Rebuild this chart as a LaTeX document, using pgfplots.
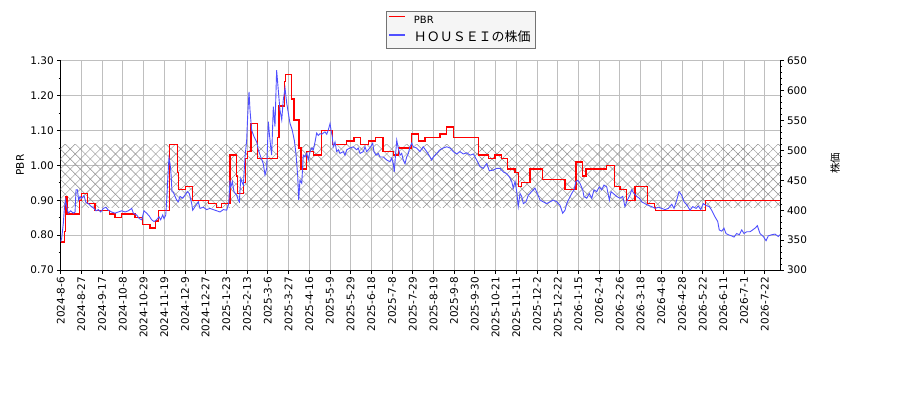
\documentclass[border=0pt]{standalone}
\usepackage{fontspec}
\setmainfont{DejaVu Sans}
\newfontfamily\cjk{Noto Sans CJK JP}
\usepackage{pgfplots}
\pgfplotsset{compat=1.18}
\usetikzlibrary{patterns.meta}

\definecolor{pbrred}{rgb}{1,0,0}
\definecolor{stockblue}{RGB}{80,80,255}

\pgfplotsset{
  chartbase/.style={
    scale only axis,
    width=719.3bp, height=209.3bp,
    at={(60.7bp,130bp)}, anchor=south west,
    xmin=0, xmax=521,
    tick align=outside,
    major tick length=3.5bp, minor tick length=2bp,
    tick style={black, line width=0.8bp},
    axis line style={-, black, line width=0.8bp},
    tick label style={font=\fontsize{10.5}{12}\selectfont},
    /pgf/number format/assume math mode=true,
  },
}

\begin{document}
\begin{tikzpicture}
\path[use as bounding box] (0,0) rectangle (900bp,400bp);

% PBR axis (left)
\begin{axis}[chartbase,
    axis x line*=bottom, axis y line*=left,
    ymin=0.70, ymax=1.30,
    ytick={0.7,0.8,0.9,1.0,1.1,1.2,1.3},
    minor y tick num=1,
    yticklabel style={/pgf/number format/.cd, fixed, fixed zerofill, precision=2},
    xtick={0,15,30,45,60,75,90,105,120,135,150,165,180,195,210,225,240,255,270,285,300,315,330,345,360,375,390,405,420,435,450,465,480,495,510},
    xticklabels={2024-8-6,2024-8-27,2024-9-17,2024-10-8,2024-10-29,2024-11-19,2024-12-9,2024-12-27,2025-1-23,2025-2-13,2025-3-6,2025-3-27,2025-4-16,2025-5-9,2025-5-29,2025-6-18,2025-7-8,2025-7-29,2025-8-19,2025-9-8,2025-9-30,2025-10-21,2025-11-11,2025-12-2,2025-12-22,2026-1-15,2026-2-4,2026-2-26,2026-3-18,2026-4-8,2026-4-28,2026-5-22,2026-6-11,2026-7-1,2026-7-22},
    xticklabel style={rotate=90, anchor=east},
    xmajorgrids, ymajorgrids,
    grid style={black!25, line width=0.8bp},
    ylabel={PBR},
    ylabel style={at={(axis description cs:-0.0566,0.502)}, anchor=center, font=\fontsize{10.5}{12}\selectfont},
  ]
  % hatched band
  \addplot[draw=none, pattern={Lines[angle=45, distance=7.1bp, line width=0.45bp]}, pattern color=black!45]
    coordinates {(0,0.88) (521,0.88) (521,1.06) (0,1.06)} -- cycle;
  \addplot[draw=none, pattern={Lines[angle=-45, distance=7.1bp, line width=0.45bp]}, pattern color=black!45]
    coordinates {(0,0.88) (521,0.88) (521,1.06) (0,1.06)} -- cycle;

  \addplot[const plot, color=pbrred, line width=1.4bp] coordinates {
    (0,0.78) (2.6,0.81) (3.6,0.91) (4.5,0.86) (13.5,0.90) (15.0,0.92) (19.3,0.89)
    (24.8,0.87) (35.2,0.86) (39.3,0.85) (44.2,0.86) (53.8,0.85) (59.4,0.83)
    (64.7,0.82) (68.8,0.84) (70.7,0.87) (78.7,1.06) (84.5,0.98) (85.2,0.93)
    (90.2,0.94) (95.6,0.90) (106.9,0.89) (113,0.88) (116.6,0.89) (122.6,1.03)
    (127.5,0.97) (128,0.92) (132.3,0.95) (134,1.02) (135.4,1.04) (137.8,1.12)
    (142.7,1.02) (156.9,1.08) (158.1,1.17) (162,1.24) (163,1.26) (167.3,1.19)
    (169,1.13) (172.6,1.05) (174,0.99) (178.2,1.04) (183,1.03) (189,1.10)
    (196.7,1.06) (207.2,1.07) (212.4,1.08) (217.3,1.06) (222.8,1.07) (228.2,1.08)
    (233.5,1.04) (240.9,1.03) (244.5,1.05) (254.2,1.09) (259,1.07) (263.9,1.08)
    (274.7,1.09) (279.6,1.11) (284.4,1.08) (302.5,1.03) (309.7,1.02) (314.6,1.03)
    (319.4,1.02) (323.5,0.99) (329.1,0.98) (331.4,0.94) (333.9,0.95) (340,0.99)
    (349.1,0.96) (365.3,0.93) (373.2,1.01) (378.1,0.97) (380.5,0.99) (395.5,1.00)
    (401,0.94) (405.1,0.93) (410,0.90) (416,0.94) (425.2,0.89) (430.2,0.88)
    (430.9,0.87) (467.2,0.90) (521,0.90)
  };
\end{axis}

% stock price axis (right)
\begin{axis}[chartbase,
    axis x line=none, axis y line*=right,
    ymin=300, ymax=650,
    ytick={300,350,400,450,500,550,600,650},
    minor y tick num=4,
    ylabel={\cjk 株価},
    ylabel style={at={(axis description cs:1.0765,0.51)}, anchor=center, font=\fontsize{10.5}{12}\selectfont},
    legend style={at={(axis description cs:0.4518,1.2389)}, anchor=north west,
      draw=black!55, fill=black!4,
      inner xsep=2.5bp, inner ysep=1.2bp, row sep=2.5bp, column sep=6bp,
      nodes={inner sep=2bp, text height=9bp, text depth=3bp},
      font=\fontsize{10}{12}\selectfont},
    legend cell align=left,
    legend image code/.code={\draw[#1] (0bp,3.5bp) -- (16bp,3.5bp);},
  ]
  \addlegendimage{color=red, line width=1.6bp}
  \addlegendentry{PBR}
  \addlegendimage{color=stockblue, line width=1.6bp}
  \addlegendentry{{\cjk\fontsize{13}{14}\selectfont ＨＯＵＳＥＩの株価}}
  \addplot[color=stockblue, line width=0.9bp, forget plot] coordinates {
    (0,347) (0.7,353) (1.9,378) (2.6,401) (3.4,417) (4.3,406) (5.5,395) (7.2,399)
    (9.2,395) (10.4,397) (11.1,434) (12.1,434) (13.0,417) (14.0,423) (15.2,420)
    (16.9,424) (18.3,413) (20.0,411) (21.7,407) (23.6,404) (25.6,399) (27.3,401)
    (29.0,397) (30.9,403) (32.8,405) (34.5,400) (36.9,397) (39.3,395) (41.7,397)
    (44.2,399) (46.6,397) (49.0,399) (51.4,403) (52.6,395) (55.0,392) (56.9,386)
    (58.7,384) (60.3,399) (62.3,395) (64.2,390) (65.9,384) (67.6,381) (69.5,384)
    (71.2,389) (72.4,384) (73.9,392) (74.8,386) (76.1,392) (76.8,417) (77.5,450)
    (78.4,487) (79.2,478) (79.9,461) (80.6,431) (81.6,430) (82.8,423) (84.0,417)
    (85.2,414) (86.4,423) (88.4,420) (90.0,425) (91.7,431) (93.1,428) (94.9,411)
    (95.6,400) (97.3,406) (99.7,414) (100.9,403) (103.3,405) (105.7,401) (108.1,403)
    (110.5,401) (113.0,399) (115.4,397) (117.8,401) (120.2,400) (121.7,411)
    (122.6,450) (123.3,439) (124.3,448) (125.5,431) (127.5,425) (128.6,417)
    (129.4,414) (130.4,453) (131.3,447) (132.3,442) (133.5,489) (134.7,517)
    (135.4,556) (136.4,598) (137.1,568) (138.3,534) (140.0,523) (142.0,514)
    (143.1,501) (144.9,489) (146.7,478) (148.0,459) (149.2,470) (150.4,548)
    (151.1,529) (152.1,506) (152.8,492) (154.0,573) (155.2,540) (156.4,634)
    (157.6,601) (158.8,568) (160.1,551) (161.2,584) (162.5,604) (163.7,579)
    (164.9,562) (166.1,545) (167.7,534) (169.2,517) (170.4,495) (171.7,456)
    (172.4,417) (173.3,450) (174.6,445) (175.7,492) (176.9,489) (178.2,495)
    (179.3,484) (180.6,498) (181.8,504) (183.0,501) (184.2,514) (185.4,529)
    (186.6,525) (187.8,528) (189.0,527) (190.2,529) (191.4,531) (192.7,527)
    (193.8,534) (195.1,545) (195.8,534) (196.7,523) (197.4,506) (198.7,514)
    (199.9,498) (201.1,501) (202.3,495) (204.7,498) (205.9,492) (207.2,501)
    (209.5,504) (211.9,506) (214.4,501) (215.5,504) (216.8,495) (219.2,498)
    (220.4,506) (221.6,498) (222.8,501) (224.5,506) (226.0,512) (226.9,498)
    (228.4,492) (230.0,495) (231.3,489) (233.7,489) (236.1,484) (238.5,481)
    (239.7,487) (240.9,478) (241.6,464) (242.4,489) (243.4,517) (244.5,504)
    (245.8,492) (247.0,495) (248.1,484) (249.4,478) (250.6,489) (251.8,495)
    (253.0,506) (254.2,512) (255.4,506) (257.8,504) (260.2,498) (262.6,506)
    (265.1,498) (267.5,489) (268.7,484) (269.9,489) (272.3,495) (274.7,501)
    (277.1,504) (279.6,506) (282.0,504) (284.4,498) (286.8,494) (289.2,498)
    (291.6,494) (294.1,496) (296.5,492) (298.9,494) (301.3,484) (303.7,473)
    (306.1,470) (308.6,478) (310.4,466) (313.3,467) (315.8,470) (318.2,470)
    (320.6,464) (323.0,461) (324.9,456) (326.7,448) (327.8,437) (329.1,448)
    (330.3,431) (331.4,406) (332.7,428) (333.9,423) (335.1,411) (337.0,414)
    (338.7,425) (341.1,431) (343.5,437) (345.2,428) (347.2,417) (349.5,414)
    (352.0,411) (354.4,414) (356.8,417) (359.3,414) (361.7,408) (363.6,395)
    (365.3,400) (366.5,411) (368.4,420) (370.1,428) (371.8,434) (373.2,448)
    (374.5,450) (376.1,445) (378.1,434) (379.0,423) (381.0,420) (382.9,428)
    (384.6,420) (386.3,434) (388.2,431) (390.1,439) (391.8,434) (393.5,442)
    (395.5,439) (397.4,417) (398.6,431) (400.2,428) (402.7,423) (405.1,420)
    (407.1,423) (408.7,406) (410.4,417) (412.3,425) (413.6,434) (415.2,428)
    (417.2,423) (419.1,420) (420.8,414) (423.2,411) (425.6,408) (428.1,406)
    (430.5,403) (432.9,405) (435.3,403) (437.7,401) (440.1,403) (442.6,410)
    (444.2,403) (446.2,417) (447.9,431) (449.8,425) (451.5,414) (453.8,408)
    (455.8,400) (457.8,406) (460.2,403) (461.8,407) (463.6,401) (465.4,411)
    (467.4,408) (469.8,406) (471.5,400) (473.9,389) (475.9,381) (477.0,367)
    (478.8,365) (480.4,370) (481.9,361) (483.5,359) (486.0,357) (487.7,355)
    (489.6,361) (491.5,359) (493.3,367) (494.9,361) (496.9,364) (499.3,364)
    (501.2,367) (502.9,370) (504.6,374) (506.5,361) (508.9,356) (510.9,349)
    (512.5,357) (515.0,359) (517.4,360) (519.8,356) (521,359)
  };
\end{axis}
\end{tikzpicture}
\end{document}
